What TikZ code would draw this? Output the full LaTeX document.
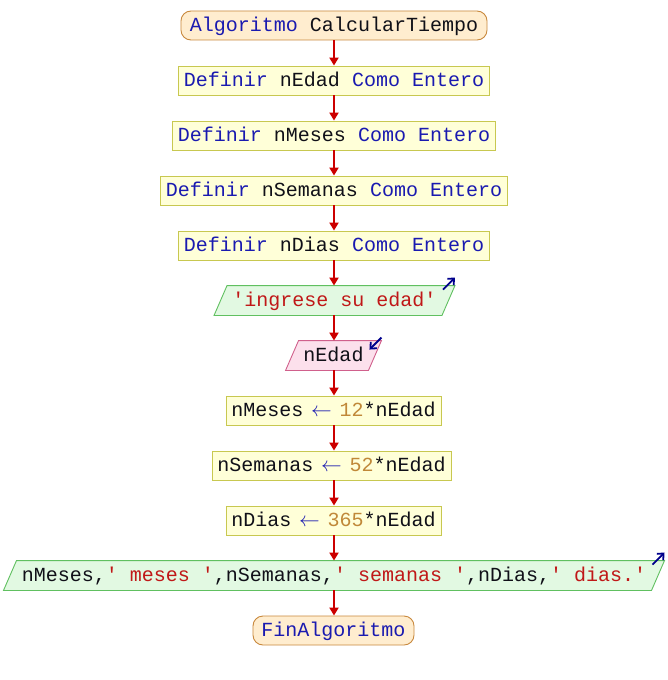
\documentclass[tikz,border=0pt]{standalone}
\usepackage{fontspec}
\usetikzlibrary{arrows.meta,backgrounds}
\newfontfamily\codefont{Liberation Mono}
\definecolor{kw}{HTML}{1A1AB0}
\definecolor{idc}{HTML}{101018}
\definecolor{strc}{HTML}{C01818}
\definecolor{numc}{HTML}{C08838}
\definecolor{flow}{HTML}{CC0000}
\definecolor{ioarr}{HTML}{00008C}
\definecolor{termdraw}{HTML}{C8883C}
\definecolor{termfill}{HTML}{FFEDCF}
\definecolor{procdraw}{HTML}{C8C850}
\definecolor{procfill}{HTML}{FFFFD8}
\definecolor{outdraw}{HTML}{60C060}
\definecolor{outfill}{HTML}{E2F9E2}
\definecolor{indraw}{HTML}{D0608C}
\definecolor{infill}{HTML}{FCE0EC}
\newcommand{\K}[1]{\textcolor{kw}{#1}}
\newcommand{\I}[1]{\textcolor{idc}{#1}}
\newcommand{\Sx}[1]{\textcolor{strc}{#1}}
\newcommand{\N}[1]{\textcolor{numc}{#1}}
\newcommand{\Asg}{\makebox[12bp][c]{\textcolor{kw}{\fontsize{20bp}{22bp}\selectfont$\leftarrow$}}}
\tikzset{
  base/.style={font=\codefont\fontsize{20bp}{24bp}\selectfont, text height=14bp, text depth=2bp,
    minimum height=29bp, inner ysep=0pt, line width=0.9bp, text=idc},
  term/.style={base, draw=termdraw, rounded corners=10bp, fill=termfill, inner xsep=9bp},
  proc/.style={base, draw=procdraw, fill=procfill, inner xsep=5.5bp},
  iotext/.style={base, inner xsep=11.5bp},
  outshape/.style={draw=outdraw, fill=outfill, line width=0.9bp},
  inshape/.style={draw=indraw, fill=infill, line width=0.9bp},
  flowarr/.style={draw=flow, line width=2bp, -{Triangle[length=8bp,width=9bp]}},
  ioarrow/.style={draw=ioarr, line width=1.8bp, -{Straight Barb[length=5bp,width=9bp]}}
}
\newcommand{\para}[2]{%
  \begin{pgfonlayer}{background}
  \path[#2] ([xshift=-6.5bp]#1.south west) -- ([xshift=6.5bp]#1.north west) -- ([xshift=6.5bp]#1.north east) -- ([xshift=-6.5bp]#1.south east) -- cycle;
  \end{pgfonlayer}}
\begin{document}
\begin{tikzpicture}[x=1bp,y=-1bp]
\useasboundingbox (0,0) rectangle (668,680);
\node[term] (s) at (334,25.5) {\K{Algoritmo} \I{CalcularTiempo}};
\node[proc] (d1) at (334,80.5) {\K{Definir} \I{nEdad} \K{Como} \K{Entero}};
\node[proc] (d2) at (334,135.5) {\K{Definir} \I{nMeses} \K{Como} \K{Entero}};
\node[proc] (d3) at (334,190.5) {\K{Definir} \I{nSemanas} \K{Como} \K{Entero}};
\node[proc] (d4) at (334,245.5) {\K{Definir} \I{nDias} \K{Como} \K{Entero}};
\node[iotext] (o1) at (334.5,300.5) {\Sx{'ingrese su edad'}};
\para{o1}{outshape}
\node[iotext, inner xsep=11bp] (i1) at (333.5,355.5) {\I{nEdad}};
\para{i1}{inshape}
\node[proc] (a1) at (333.5,410.5) {\I{nMeses} \Asg{} \N{12}\I{*nEdad}};
\node[proc] (a2) at (331.5,465.5) {\I{nSemanas} \Asg{} \N{52}\I{*nEdad}};
\node[proc] (a3) at (333.5,520.5) {\I{nDias} \Asg{} \N{365}\I{*nEdad}};
\node[iotext] (o2) at (334,575.5) {\I{nMeses,}\Sx{' meses '}\I{,nSemanas,}\Sx{' semanas '}\I{,nDias,}\Sx{' dias.'}};
\para{o2}{outshape}
\node[term, inner xsep=8.5bp] (e) at (333.5,630.5) {\K{FinAlgoritmo}};
\foreach \a/\b in {s/d1,d1/d2,d2/d3,d3/d4,d4/o1,o1/i1,i1/a1,a1/a2,a2/a3,a3/o2,o2/e}
  \draw[flowarr] (\a.south -| 334,0) -- (\b.north -| 334,0);
\draw[ioarrow] ([shift={(-5.5,4)}]o1.north east) -- ([shift={(6.5,-8)}]o1.north east);
\draw[ioarrow] ([shift={(6.5,-3)}]i1.north east) -- ([shift={(-5.5,9)}]i1.north east);
\draw[ioarrow] ([shift={(-5.5,4)}]o2.north east) -- ([shift={(6.5,-8)}]o2.north east);
\end{tikzpicture}
\end{document}
